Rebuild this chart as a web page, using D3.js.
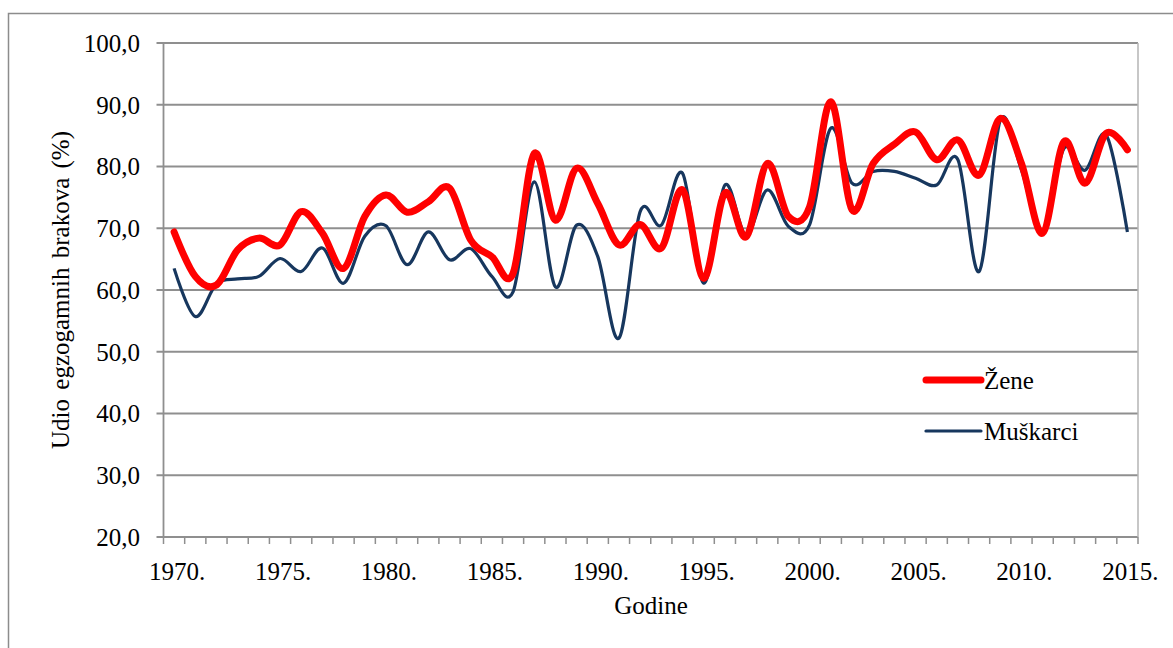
<!DOCTYPE html>
<html>
<head>
<meta charset="utf-8">
<script src="https://cdn.jsdelivr.net/npm/d3@7"></script>
<style>
  body { margin: 0; background: #fff; }
  svg text { font-family: 'Liberation Serif', 'DejaVu Serif', serif; fill: #000; }
</style>
</head>
<body>
<div id="chart"></div>
<script>
var years = d3.range(1970, 2016);
var zene = [69.4, 62.2, 60.8, 66.5, 68.4, 67.3, 72.7, 69.2, 63.5, 71.9,
            75.4, 72.6, 74.3, 76.5, 68.1, 65.4, 62.7, 82.1, 71.3, 79.7,
            74.0, 67.3, 70.6, 66.8, 76.2, 61.9, 75.7, 68.6, 80.5, 71.9,
            73.5, 90.5, 73.0, 80.5, 83.6, 85.6, 81.1, 84.3, 78.6, 87.8,
            80.5, 69.2, 84.0, 77.3, 85.4, 82.7];
var muskarci = [63.5, 55.7, 61.0, 61.8, 62.2, 65.1, 63.0, 66.8, 61.1, 68.7,
                70.4, 64.1, 69.4, 64.9, 66.7, 62.2, 59.7, 77.5, 60.5, 70.5,
                65.4, 52.2, 72.7, 70.5, 78.9, 61.1, 77.0, 68.9, 76.2, 70.3,
                70.6, 86.2, 77.3, 79.2, 79.2, 78.1, 77.0, 81.1, 63.0, 87.5,
                79.4, 69.2, 82.9, 79.4, 85.1, 69.4];
var yTicks = [20, 30, 40, 50, 60, 70, 80, 90, 100];
var xLabelYears = [1970, 1975, 1980, 1985, 1990, 1995, 2000, 2005, 2010, 2015];

var chartWidth = 1173, chartHeight = 648;
var plotLeft = 163.5, plotRight = 1138, plotTop = 43, plotBottom = 537;
var serif = "'Liberation Serif', 'DejaVu Serif', serif";

var svg = d3.select("#chart").append("svg")
    .attr("width", chartWidth)
    .attr("height", chartHeight);

// outer frame
svg.append("rect")
    .attr("x", 8.5).attr("y", 13.5)
    .attr("width", 1200).attr("height", 700)
    .attr("fill", "none")
    .attr("stroke", "#8c8c8c")
    .attr("stroke-width", 1.5);

var x = d3.scaleBand().domain(years).range([plotLeft, plotRight]);
var y = d3.scaleLinear().domain([20, 100]).range([plotBottom, plotTop]);
function cx(yr) { return x(yr) + x.bandwidth() / 2; }

// gridlines
svg.append("g").selectAll("line")
    .data(yTicks)
    .enter().append("line")
    .attr("x1", plotLeft - 7).attr("x2", plotRight)
    .attr("y1", function (d) { return y(d); })
    .attr("y2", function (d) { return y(d); })
    .attr("stroke", "#8f8f8f")
    .attr("stroke-width", 1.8);

// y axis line and right border
svg.append("line")
    .attr("x1", plotLeft).attr("x2", plotLeft)
    .attr("y1", plotTop).attr("y2", plotBottom)
    .attr("stroke", "#8f8f8f").attr("stroke-width", 1.8);
svg.append("line")
    .attr("x1", plotRight).attr("x2", plotRight)
    .attr("y1", plotTop).attr("y2", plotBottom)
    .attr("stroke", "#b5b5b5").attr("stroke-width", 1.5);

// x tick marks between categories
svg.append("g").selectAll("line")
    .data(years.concat([2016]))
    .enter().append("line")
    .attr("x1", function (d) { return d === 2016 ? plotRight : x(d); })
    .attr("x2", function (d) { return d === 2016 ? plotRight : x(d); })
    .attr("y1", plotBottom).attr("y2", plotBottom + 7)
    .attr("stroke", "#8f8f8f").attr("stroke-width", 1.5);

// y tick labels
svg.append("g").selectAll("text")
    .data(yTicks)
    .enter().append("text")
    .attr("x", 140)
    .attr("y", function (d) { return y(d); })
    .attr("dy", "0.35em")
    .attr("text-anchor", "end")
    .attr("font-family", serif)
    .style("font-size", "25px")
    .text(function (d) { return d3.format(".1f")(d).replace(".", ","); });

// x tick labels
svg.append("g").selectAll("text")
    .data(xLabelYears)
    .enter().append("text")
    .attr("x", function (d) { return cx(d) + 3; })
    .attr("y", 580)
    .attr("text-anchor", "middle")
    .attr("font-family", serif)
    .style("font-size", "25px")
    .text(function (d) { return d + "."; });

// axis titles
svg.append("text")
    .attr("x", 651).attr("y", 614)
    .attr("text-anchor", "middle")
    .attr("font-family", serif)
    .style("font-size", "25px")
    .text("Godine");
svg.append("text")
    .attr("transform", "translate(69,290) rotate(-90)")
    .attr("text-anchor", "middle")
    .attr("font-family", serif)
    .style("font-size", "25px")
    .style("word-spacing", "3px")
    .text("Udio egzogamnih brakova (%)");

// lines
var line = d3.line()
    .x(function (d) { return cx(d.year); })
    .y(function (d) { return y(d.value); })
    .curve(d3.curveCatmullRom.alpha(0));

function series(vals) {
    return years.map(function (yr, i) { return { year: yr, value: vals[i] }; });
}

svg.append("path")
    .datum(series(muskarci))
    .attr("d", line)
    .attr("fill", "none")
    .attr("stroke", "#17375e")
    .attr("stroke-width", 3.2)
    .attr("stroke-linejoin", "round");

svg.append("path")
    .datum(series(zene))
    .attr("d", line)
    .attr("fill", "none")
    .attr("stroke", "#ff0000")
    .attr("stroke-width", 7)
    .attr("stroke-linejoin", "round")
    .attr("stroke-linecap", "round");

// legend
var legendItems = [
    { name: "Žene", color: "#ff0000", w: 7, y: 380 },
    { name: "Muškarci", color: "#17375e", w: 3.2, y: 431 }
];
legendItems.forEach(function (item) {
    svg.append("line")
        .attr("x1", 926).attr("x2", 981)
        .attr("y1", item.y).attr("y2", item.y)
        .attr("stroke", item.color)
        .attr("stroke-width", item.w)
        .attr("stroke-linecap", "round");
    svg.append("text")
        .attr("x", 984).attr("y", item.y + 9)
        .attr("font-family", serif)
        .style("font-size", "25px")
        .text(item.name);
});
</script>
</body>
</html>
